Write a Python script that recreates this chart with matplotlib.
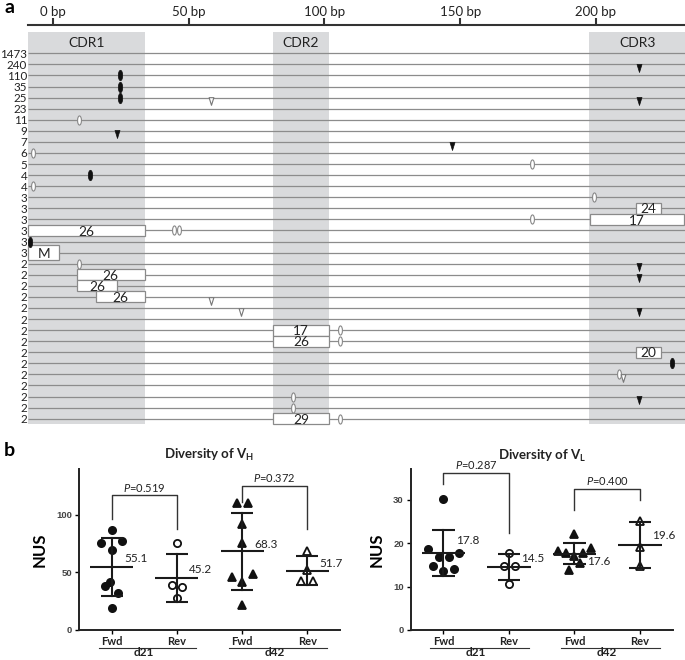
import numpy as np
import matplotlib
matplotlib.use("Agg")
import matplotlib.pyplot as plt
from matplotlib.path import Path
from matplotlib.patches import Rectangle
from matplotlib.transforms import blended_transform_factory

plt.rcParams["font.family"] = ["Lato", "DejaVu Sans"]
plt.rcParams["mathtext.fontset"] = "custom"
plt.rcParams["mathtext.rm"] = "Lato"
plt.rcParams["mathtext.it"] = "Lato:italic"
plt.rcParams["mathtext.bf"] = "Lato:bold"

# ---------------- panel a: clone alignment ----------------
row_labels = ["1473", "240", "110", "35", "25", "23", "11", "9", "7", "6", "5", "4", "4",
              "3", "3", "3", "3", "3", "3"] + ["2"] * 15
regions = ["CDR1", "CDR2", "CDR3"]
region_start = [-9.2, 80.9, 197.5]
region_end = [33.9, 101.8, 233.0]
ruler_ticks = [0, 50, 100, 150, 200]

black_oval_row = [2, 3, 4, 11, 17, 28]
black_oval_bp = [24.5, 24.5, 24.5, 13.5, -8.6, 228.0]
white_oval_row = [6, 9, 10, 12, 13, 15, 16, 16, 19, 25, 26, 29, 31, 32, 33]
white_oval_bp = [9.6, -7.4, 176.4, -7.4, 199.4, 176.4, 44.4, 46.5, 9.6, 105.7, 105.7,
                 208.5, 88.4, 88.4, 105.7]
black_tri_row = [1, 4, 7, 8, 19, 20, 23, 31]
black_tri_bp = [215.8, 215.8, 23.6, 146.9, 215.8, 215.8, 215.8, 215.8]
white_tri_row = [4, 22, 23, 29]
white_tri_bp = [58.3, 58.3, 69.4, 210.0]
box_row = [14, 15, 16, 18, 20, 21, 22, 25, 26, 27, 33]
box_start = [214.7, 197.8, -9.2, -9.2, 8.7, 8.7, 15.9, 80.9, 80.9, 214.7, 80.9]
box_end = [224.0, 232.5, 33.9, 2.3, 33.9, 23.6, 33.9, 101.8, 101.8, 224.0, 101.8]
box_text = ["24", "17", "26", "M", "26", "26", "26", "17", "26", "20", "29"]

# ---------------- panel b: diversity ----------------
group_labels = ["Fwd", "Rev", "Fwd", "Rev"]
day_labels = ["d21", "d42"]
vh_values = [
    [87.0, 75.4, 77.4, 69.6, 42.0, 38.3, 31.9, 19.0],
    [76.0, 39.5, 37.5, 27.9],
    [110.0, 110.0, 92.0, 76.0, 46.0, 48.5, 42.0, 22.0],
    [69.0, 52.0, 43.0, 42.8],
]
vh_jitter = [
    [0.0, -0.17, 0.16, 0.0, -0.02, -0.1, 0.1, 0.0],
    [0.0, -0.08, 0.08, 0.0],
    [-0.08, 0.09, 0.0, 0.0, -0.16, 0.16, 0.0, 0.0],
    [0.0, 0.0, -0.09, 0.09],
]
vl_values = [
    [30.2, 18.7, 17.7, 16.7, 16.7, 14.8, 13.5, 14.0],
    [17.8, 14.8, 14.8, 10.6],
    [22.1, 18.2, 18.9, 17.7, 17.7, 17.0, 15.4, 13.8],
    [25.1, 19.0, 14.7],
]
vl_jitter = [
    [0.0, -0.23, 0.24, -0.07, 0.09, -0.16, 0.0, 0.16],
    [0.0, -0.08, 0.09, 0.0],
    [0.0, -0.25, 0.25, -0.13, 0.13, 0.0, 0.09, -0.08],
    [0.0, 0.0, 0.0],
]
vh_p = ["0.519", "0.372"]
vl_p = ["0.287", "0.400"]
# bracket: left cat, right cat, top, left-leg end, right-leg end
vh_brackets = [(0, 1, 117.4, 96.5, 87.8), (2, 3, 125.5, 111.6, 87.5)]
vl_brackets = [(0, 1, 36.2, 33.7, 22.3), (2, 3, 32.5, 27.7, 29.9)]
vh_label_dy = [6, 6, 5, 5]
vl_label_dy = [9, 6, -6, 7]

fig = plt.figure(figsize=(6.85, 6.6), dpi=100)

# ---- panel a
ax = fig.add_axes([0.0409, 0.3576, 0.9591, 0.6045])
n_rows = len(row_labels)
ax.set_xlim(-9.2, 232.8)
ax.set_ylim(n_rows - 0.52, -2.56)
for name, x0, x1 in zip(regions, region_start, region_end):
    ax.add_patch(Rectangle((x0, -1.92), x1 - x0, n_rows + 1.4, facecolor="#d9dadc",
                           edgecolor="none", zorder=0, clip_on=False))
    ax.text((x0 + x1) / 2, -0.95, name, ha="center", va="center", fontsize=10, color="#222")
ax.hlines(np.arange(n_rows), -9.2, 232.8, color="#8c8c8c", lw=0.9, zorder=1)

for r, x0, x1, t in zip(box_row, box_start, box_end, box_text):
    h = 1.35 if t == "M" else 0.98
    ax.add_patch(Rectangle((x0, r - h / 2), x1 - x0, h, facecolor="white",
                           edgecolor="#8a8a8a", lw=0.9, zorder=2, clip_on=False))
    ax.text((x0 + x1) / 2, r + 0.1, t, ha="center", va="center", fontsize=9.8, color="#222", zorder=3)

circ = Path.unit_circle()
oval = Path(circ.vertices * np.array([0.42, 1.0]), circ.codes)
tri = Path([(-0.62, 1.0), (0.62, 1.0), (0.0, -1.0), (-0.62, 1.0)],
           [Path.MOVETO, Path.LINETO, Path.LINETO, Path.CLOSEPOLY])
ax.plot(black_oval_bp, black_oval_row, ls="none", marker=oval, ms=7.5, mfc="#111",
        mec="#111", mew=0.5, zorder=4, clip_on=False)
ax.plot(white_oval_bp, white_oval_row, ls="none", marker=oval, ms=6.6, mfc="white",
        mec="#888", mew=0.8, zorder=4, clip_on=False)
ax.plot(black_tri_bp, np.array(black_tri_row) + 0.33, ls="none", marker=tri, ms=5.8,
        mfc="#111", mec="#111", mew=0.5, zorder=4)
ax.plot(white_tri_bp, np.array(white_tri_row) + 0.33, ls="none", marker=tri, ms=5.5,
        mfc="white", mec="#777", mew=0.8, zorder=4)

for s in ["left", "right", "bottom"]:
    ax.spines[s].set_visible(False)
ax.spines["top"].set_linewidth(1.5)
ax.spines["top"].set_color("#333")
ax.xaxis.tick_top()
ax.set_xticks(ruler_ticks)
ax.set_xticklabels([f"{t} bp" for t in ruler_ticks], fontsize=9.5, color="#222")
ax.tick_params(axis="x", direction="out", length=5, width=1.5, color="#333", pad=0)
ax.set_yticks(np.arange(n_rows))
ax.set_yticklabels(row_labels, fontsize=8.4, color="#222")
ax.tick_params(axis="y", length=0, pad=0.6)

fig.text(0.006, 0.988, "a", fontsize=14, fontweight="bold", va="center")
fig.text(0.006, 0.318, "b", fontsize=14, fontweight="bold", va="center")


# ---- panel b
def draw_panel(ax, values, jitter, brackets, pvals, label_dy, ylim, yticks, title):
    styles = [("o", "#111"), ("o", "white"), ("^", "#111"), ("^", "white")]
    for i, (vals, jit) in enumerate(zip(values, jitter)):
        vals = np.array(vals)
        m, ec = styles[i]
        ax.plot(i + np.array(jit), vals, ls="none", marker=m, ms=5.2, mfc=ec,
                mec="#111", mew=1.3, zorder=2, clip_on=False)
        mean = vals.mean()
        sd = vals.std(ddof=1)
        ax.plot([i, i], [mean - sd, mean + sd], color="#1a1a1a", lw=1.5, zorder=3)
        ax.hlines([mean - sd, mean + sd], i - 0.17, i + 0.17, color="#1a1a1a", lw=1.5, zorder=3)
        ax.hlines(mean, i - 0.33, i + 0.33, color="#1a1a1a", lw=1.5, zorder=3)
        ax.annotate(f"{mean:.1f}", (i + 0.19, mean), xytext=(0, label_dy[i]),
                    textcoords="offset points", ha="left", va="center", fontsize=8.5, color="#222")
    for (a, b, top, la, lb), p in zip(brackets, pvals):
        ax.plot([a, a, b, b], [la, top, top, lb], color="#333", lw=1.0, clip_on=False, zorder=3)
        ax.annotate(r"$\it{P}$=" + p, ((a + b) / 2, top), xytext=(0, 1), textcoords="offset points",
                    ha="center", va="bottom", fontsize=8, color="#222", annotation_clip=False)
    ax.set_xlim(-0.5, 3.5)
    ax.set_ylim(*ylim)
    ax.set_yticks(yticks)
    ax.set_yticklabels([str(t) for t in yticks], fontsize=6.8, fontweight="bold", color="#444",
                       family=["Liberation Sans", "DejaVu Sans"])
    ax.set_xticks(range(4))
    ax.set_xticklabels(group_labels, fontsize=8, fontweight="bold", color="#222")
    ax.tick_params(axis="x", length=3, width=1, pad=1.5)
    ax.tick_params(axis="y", length=3, width=1, pad=2)
    for s in ["top", "right"]:
        ax.spines[s].set_visible(False)
    for s in ["left", "bottom"]:
        ax.spines[s].set_linewidth(1.4)
        ax.spines[s].set_color("#222")
    trans = blended_transform_factory(ax.transData, ax.transAxes)
    for k, day in enumerate(day_labels):
        x0 = 2 * k
        ax.plot([x0 - 0.2, x0 + 1.3], [-0.11, -0.11], transform=trans, color="#333",
                lw=0.8, clip_on=False)
        ax.text(x0 + 0.5, -0.143, day, transform=trans, ha="center", va="center",
                fontsize=8.5, fontweight="bold", color="#222")
    ax.set_ylabel("NUS", fontsize=12, fontweight="bold", labelpad=6)
    ax.set_title(title, fontsize=9.5, fontweight="bold", color="#222", pad=7)


ax1 = fig.add_axes([0.1153, 0.0455, 0.381, 0.244])
draw_panel(ax1, vh_values, vh_jitter, vh_brackets, vh_p, vh_label_dy, (0, 140), [0, 50, 100],
           r"Diversity of V$_{\mathbf{H}}$")
ax2 = fig.add_axes([0.5996, 0.0455, 0.3825, 0.2435])
draw_panel(ax2, vl_values, vl_jitter, vl_brackets, vl_p, vl_label_dy, (0, 37), [0, 10, 20, 30],
           r"Diversity of V$_{\mathbf{L}}$")

fig.savefig("out.png", dpi=100)
